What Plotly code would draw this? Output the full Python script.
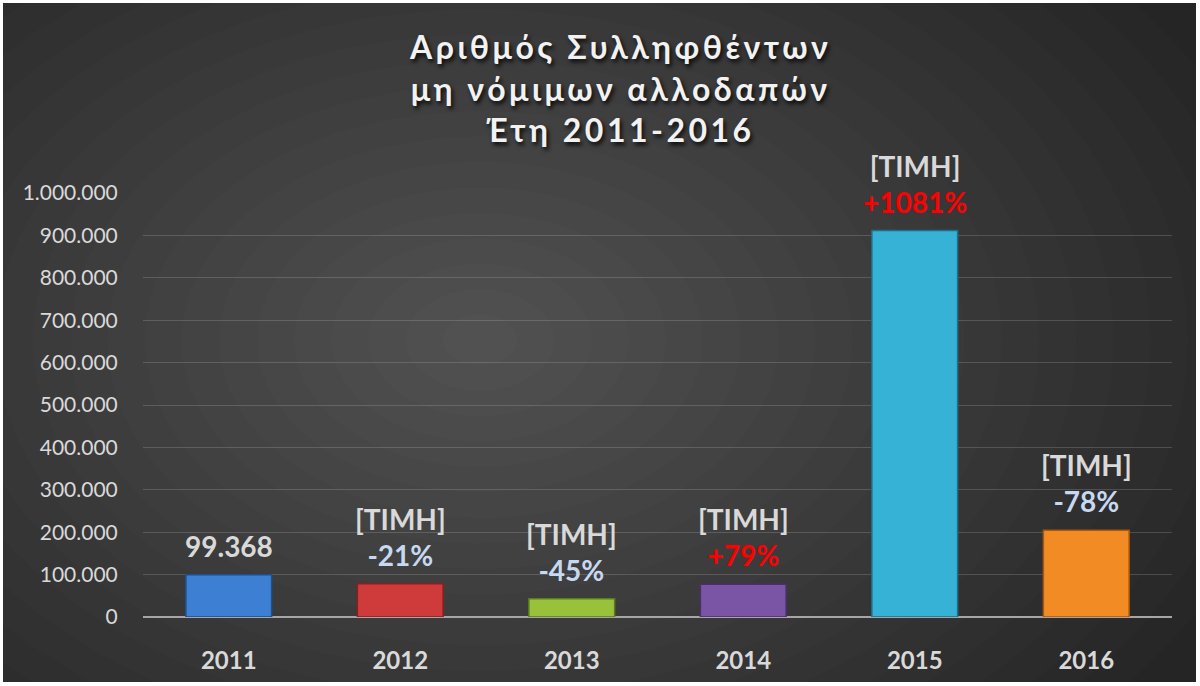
import plotly.graph_objects as go

years = ["2011", "2012", "2013", "2014", "2015", "2016"]
arrests = [99368, 78400, 43002, 77163, 911471, 204820]
pct_labels = ["", "-21%", "-45%", "+79%", "+1081%", "-78%"]
bar_colors = ["#3c7fd3", "#cf3b3b", "#98c23a", "#7a55a6", "#35b2d6", "#f28b24"]
line_colors = ["#1f4e8c", "#8a1f1f", "#5d7a1f", "#4a2f6b", "#1d6f87", "#a8570e"]
y_ticks = [0, 100000, 200000, 300000, 400000, 500000, 600000, 700000, 800000, 900000, 1000000]
title_lines = ["Αριθμός Συλληφθέντων", "μη νόμιμων αλλοδαπών", "Έτη 2011-2016"]

W, H = 1200, 686
L, R, T, B = 143, 28, 193, 69
PW, PH = W - L - R, H - T - B


def px(x):
    return (x - L) / PW


def py(y):
    return (H - B - y) / PH


fig = go.Figure()
fig.add_trace(go.Bar(
    x=years, y=arrests, width=0.5,
    marker=dict(color=bar_colors, line=dict(color=line_colors, width=1.5)),
    hoverinfo="x+y", showlegend=False,
))

shapes = []
shapes.append(dict(type="rect", xref="paper", yref="paper", layer="below",
                   x0=px(3), x1=px(1196), y0=py(682), y1=py(3),
                   fillcolor="#252525", line=dict(width=0)))
n = 22
cx, cy = 480, 340
for i in range(n):
    f = 1 - i / n
    rx, ry = 820 * f, 560 * f
    shapes.append(dict(type="circle", xref="paper", yref="paper", layer="below",
                       x0=px(cx - rx), x1=px(cx + rx), y0=py(cy + ry), y1=py(cy - ry),
                       fillcolor="rgba(255,255,255,0.011)", line=dict(width=0)))

annotations = []
for i, (v, p) in enumerate(zip(arrests, pct_labels)):
    if p:
        col = "#ff0000" if p.startswith("+") else "#c6d9f1"
        txt = "[ΤΙΜΗ]<br><span style='color:%s'>%s</span>" % (col, p)
    else:
        txt = "{:,}".format(v).replace(",", ".")
    # category axes place annotations by category index
    annotations.append(dict(x=i, y=v, xref="x", yref="y", text=txt, showarrow=False,
                            yanchor="bottom", yshift=10,
                            font=dict(family="Lato", size=28, color="#d9d9d9", weight="bold")))

annotations.append(dict(
    x=px(620), y=py(88), xref="paper", yref="paper", showarrow=False,
    xanchor="center", yanchor="middle",
    text="<span style='letter-spacing:3.5px'>" + "<br>".join(title_lines) + "</span>",
    font=dict(family="Lato", size=32, color="#f2f2f2", weight="bold",
              shadow="2px 3px 4px rgba(0,0,0,0.85)"),
))

fig.update_layout(
    width=W, height=H,
    margin=dict(l=L, r=R, t=T, b=B),
    paper_bgcolor="white",
    plot_bgcolor="rgba(0,0,0,0)",
    separators=",.",
    shapes=shapes,
    annotations=annotations,
)
fig.update_xaxes(
    type="category", range=[-0.5, len(years) - 0.5],
    showgrid=False, showline=False, zeroline=False,
    ticks="outside", ticklen=22, tickcolor="rgba(0,0,0,0)",
    tickfont=dict(family="Lato", size=24, color="#d9d9d9", weight="bold"),
)
fig.update_yaxes(
    range=[0, 1000000], tickvals=y_ticks, tickformat=",d",
    showgrid=True, gridcolor="rgba(200,200,200,0.22)", gridwidth=1,
    zeroline=True, zerolinecolor="#a6a6a6", zerolinewidth=2,
    showline=False,
    ticks="outside", ticklen=20, tickcolor="rgba(0,0,0,0)",
    tickfont=dict(family="Lato", size=21, color="#d9d9d9"),
)

fig.write_html("out.html", config={"displayModeBar": False},
               post_script="document.body.style.margin='0';")
